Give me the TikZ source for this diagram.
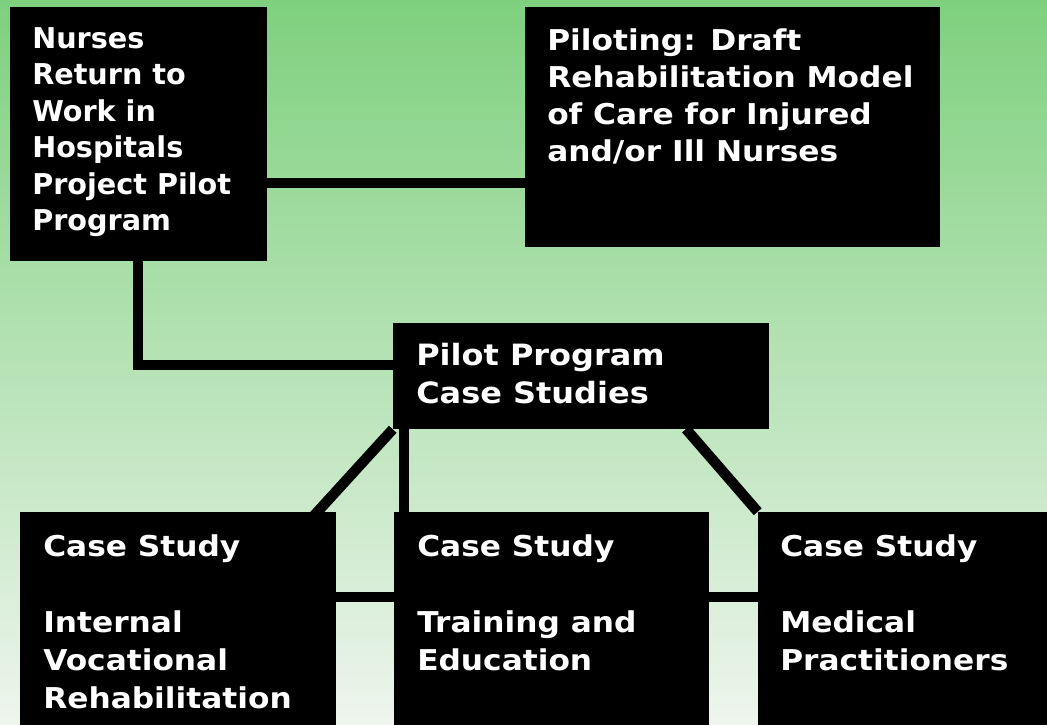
\documentclass[tikz,border=0pt]{standalone}
\usepackage{fontspec}
\setmainfont{DejaVu Sans}
\newfontfamily\widefont{DejaVu Sans}[FakeStretch=1.09]
\usetikzlibrary{fit,calc}
\pgfdeclarelayer{back}
\pgfdeclarelayer{links}
\pgfsetlayers{back,links,main}
\definecolor{bgtop}{RGB}{126,208,126}
\definecolor{bgmid}{RGB}{192,228,190}
\definecolor{bgbot}{RGB}{238,245,237}
\begin{document}
\begin{tikzpicture}[x=0.75pt,y=-0.75pt,
  box/.style={fill=black, draw=none, inner sep=0pt},
  link/.style={line width=7.8pt, draw=black},
  txt/.style={text=white, font=\bfseries\fontsize{21.5}{27.4}\selectfont, align=left, inner sep=0pt, anchor=north west},
  txtw/.style={txt, font=\widefont\bfseries\fontsize{21.5}{27.9}\selectfont},
  txtc/.style={txt, font=\widefont\bfseries\fontsize{22}{28.6}\selectfont},
  txtb/.style={txt, font=\widefont\bfseries\fontsize{21.5}{28.6}\selectfont}]
\path[use as bounding box] (0,0) rectangle (1047,725);
\begin{pgfonlayer}{back}
\shade[top color=bgtop, middle color=bgmid, bottom color=bgbot] (0,0) rectangle (1047,725);
\end{pgfonlayer}
% boxes
\node[box, fit={(10,7) (267,261)}] (A) {};
\node[box, fit={(525,7) (940,247)}] (B) {};
\node[box, fit={(393,323) (769,429)}] (C) {};
\node[box, fit={(20,512) (336,725)}] (D) {};
\node[box, fit={(394,512) (709,725)}] (E) {};
\node[box, fit={(758,512) (1047,725)}] (F) {};
% texts
\node[txt] (At) at (32,27) {Nurses\\Return to\\Work in\\Hospitals\\Project Pilot\\Program};
\node[txtw] (Bt) at (547,28) {Piloting: Draft\\Rehabilitation Model\\of Care for Injured\\and/or Ill Nurses};
\node[txtc] (Ct) at (416,343) {Pilot Program\\Case Studies};
\node[txtb] (Dt) at (43,534) {Case Study\\[28.6pt]Internal\\Vocational\\Rehabilitation};
\node[txtb] (Et) at (417,534) {Case Study\\[28.6pt]Training and\\Education};
\node[txtb] (Ft) at (780,534) {Case Study\\[28.6pt]Medical\\Practitioners};
% connectors
\coordinate (hAB) at (400,183);
\coordinate (vAC) at (138,365);
\coordinate (xE) at (404,470);
\coordinate (hB) at (550,597);
\coordinate (dD) at (310,520);
\coordinate (sF) at (686,429);
\begin{pgfonlayer}{links}
\draw[link] (A.east |- hAB) -- (B.west |- hAB);
\draw[link] (A.south -| vAC) -- (vAC) -- (vAC -| C.west);
\draw[link] (C.south west) -- (dD);
\draw[link] (C.south west -| xE) -- (E.north west -| xE);
\draw[link] (sF) -- (F.north west);
\draw[link] (D.east |- hB) -- (E.west |- hB);
\draw[link] (E.east |- hB) -- (F.west |- hB);
\end{pgfonlayer}
\end{tikzpicture}
\end{document}
